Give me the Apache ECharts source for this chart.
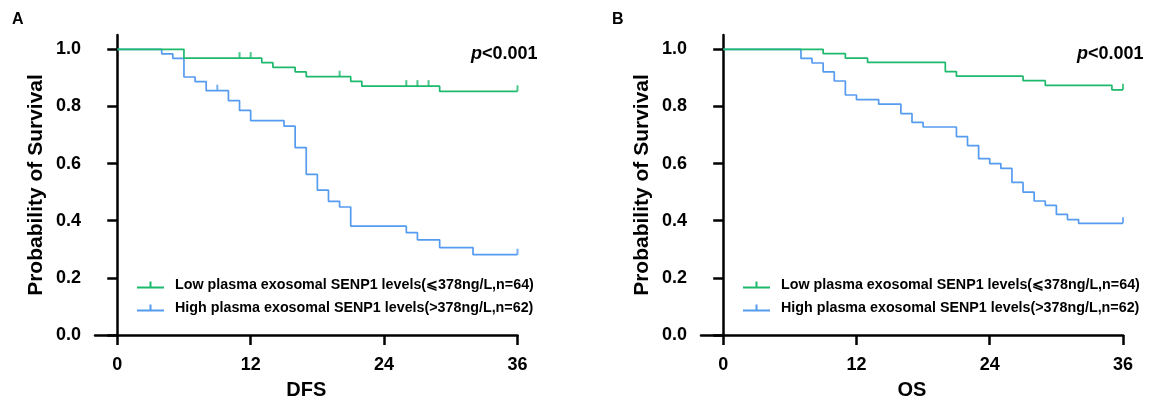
<!DOCTYPE html>
<html>
<head>
<meta charset="utf-8">
<script src="https://cdn.jsdelivr.net/npm/echarts@6/dist/echarts.min.js"></script>
<style>
  html, body { margin: 0; padding: 0; background: #fff; }
  #chart { width: 1155px; height: 405px; }
</style>
</head>
<body>
<div id="chart"></div>
<script>
// survival curves (month, survival)
var dfsLowT = [0, 6, 13, 14, 16, 17, 21, 22, 29, 36];
var dfsLowS = [1, 0.969, 0.953, 0.937, 0.921, 0.904, 0.888, 0.871, 0.853, 0.853];
var dfsLowCens = [11, 12, 20, 26, 27, 28, 36];

var dfsHighT = [0, 4, 5, 6, 7, 8, 10, 11, 12, 15, 16, 17, 18, 19, 20, 21, 26, 27, 29, 32, 36];
var dfsHighS = [1, 0.984, 0.968, 0.903, 0.887, 0.855, 0.82, 0.786, 0.75, 0.731, 0.656, 0.562, 0.507, 0.468, 0.448, 0.381, 0.358, 0.333, 0.306, 0.281, 0.281];
var dfsHighCens = [9, 36];

var osLowT = [0, 9, 11, 13, 20, 21, 27, 29, 35, 36];
var osLowS = [1, 0.985, 0.969, 0.954, 0.922, 0.906, 0.89, 0.874, 0.858, 0.858];
var osLowCens = [36];

var osHighT = [0, 7, 8, 9, 10, 11, 12, 14, 16, 17, 18, 21, 22, 23, 24, 25, 26, 27, 28, 29, 30, 31, 32, 36];
var osHighS = [1, 0.968, 0.952, 0.921, 0.889, 0.84, 0.824, 0.808, 0.775, 0.744, 0.728, 0.694, 0.663, 0.617, 0.6, 0.583, 0.534, 0.5, 0.469, 0.454, 0.422, 0.404, 0.391, 0.391];
var osHighCens = [36];

var xTicks = [0, 12, 24, 36];
var yTicks = [0, 0.2, 0.4, 0.6, 0.8, 1.0];
var lowName = 'Low plasma exosomal SENP1 levels(\u2A7D378ng/L,n=64)';
var highName = 'High plasma exosomal SENP1 levels(>378ng/L,n=62)';

var GREEN = '#1db96c';
var BLUE = '#559bf0';
var FONT = '"Liberation Sans", Arial, sans-serif';

function pairs(t, s) {
  return t.map(function (v, i) { return [v, s[i]]; });
}
// survival value at a censoring time (step lookup)
function censPts(t, s, cens) {
  return cens.map(function (c) {
    var v = s[0];
    for (var i = 0; i < t.length; i++) { if (t[i] <= c) v = s[i]; }
    return [c, v];
  });
}

function xAx(idx, title) {
  return {
    type: 'value', gridIndex: idx, min: -2, max: 36,
    name: title, nameLocation: 'middle', nameGap: 45,
    nameTextStyle: { fontFamily: FONT, fontWeight: 'bold', fontSize: 20, color: '#000' },
    axisLine: { onZero: false, lineStyle: { color: '#000', width: 2.5 } },
    axisTick: { length: 10, customValues: xTicks, lineStyle: { color: '#000', width: 2.5 } },
    axisLabel: { customValues: xTicks, margin: 21, fontFamily: FONT, fontWeight: 'bold', fontSize: 18, color: '#000' },
    splitLine: { show: false }
  };
}
function yAx(idx) {
  return {
    type: 'value', gridIndex: idx, min: 0, max: 1.05,
    name: 'Probability of Survival', nameLocation: 'middle', nameGap: 48,
    nameTextStyle: { fontFamily: FONT, fontWeight: 'bold', fontSize: 21, color: '#000' },
    axisLine: { lineStyle: { color: '#000', width: 2.5 } },
    axisTick: { length: 10, customValues: yTicks, lineStyle: { color: '#000', width: 2.5 } },
    axisLabel: {
      customValues: yTicks, margin: 14, fontFamily: FONT, fontWeight: 'bold', fontSize: 18, color: '#000',
      formatter: function (v) { return v.toFixed(1); }
    },
    splitLine: { show: false }
  };
}
function curve(name, idx, t, s, color, z) {
  return {
    name: name, type: 'line', step: 'end', xAxisIndex: idx, yAxisIndex: idx,
    data: pairs(t, s), symbol: 'none', z: z,
    lineStyle: { color: color, width: 1.7 }, itemStyle: { color: color }
  };
}
function ticks(idx, t, s, cens, color, z) {
  return {
    name: 'cens', type: 'scatter', xAxisIndex: idx, yAxisIndex: idx,
    data: censPts(t, s, cens), symbol: 'rect', symbolSize: [2, 6], symbolOffset: [0, -3],
    itemStyle: { color: color }, z: z, silent: true
  };
}
function legendAt(left) {
  return {
    orient: 'vertical', left: left, top: 272, itemWidth: 27, itemHeight: 7, itemGap: 7,
    icon: 'path://M0,5h27v2h-27z M12.5,0h2v5h-2z',
    data: [lowName, highName],
    textStyle: { fontFamily: FONT, fontWeight: 'bold', fontSize: 14.3, color: '#000', lineHeight: 16, padding: [0, 0, 0, 6] }
  };
}
function pText(x) {
  return {
    type: 'text', left: x, top: 45,
    style: {
      text: '{i|p}{n|<0.001}',
      rich: {
        i: { fontFamily: FONT, fontWeight: 'bold', fontStyle: 'italic', fontSize: 18, fill: '#000' },
        n: { fontFamily: FONT, fontWeight: 'bold', fontSize: 18, fill: '#000' }
      }
    }
  };
}

var chart = echarts.init(document.getElementById('chart'));
var option = {
  animation: false,
  backgroundColor: '#fff',
  grid: [
    { left: 95, top: 35, width: 422.5, height: 305 },
    { left: 701, top: 35, width: 422, height: 305 }
  ],
  xAxis: [xAx(0, 'DFS'), xAx(1, 'OS')],
  yAxis: [yAx(0), yAx(1)],
  legend: [legendAt(132), legendAt(738)],
  graphic: [
    { type: 'text', left: 12, top: 12, style: { text: 'A', fontFamily: FONT, fontWeight: 'bold', fontSize: 16, fill: '#000' } },
    { type: 'text', left: 612, top: 12, style: { text: 'B', fontFamily: FONT, fontWeight: 'bold', fontSize: 16, fill: '#000' } },
    pText(471),
    pText(1077)
  ],
  series: [
    curve(highName, 0, dfsHighT, dfsHighS, BLUE, 2),
    ticks(0, dfsHighT, dfsHighS, dfsHighCens, BLUE, 2),
    curve(lowName, 0, dfsLowT, dfsLowS, GREEN, 3),
    ticks(0, dfsLowT, dfsLowS, dfsLowCens, GREEN, 3),
    curve(highName, 1, osHighT, osHighS, BLUE, 2),
    ticks(1, osHighT, osHighS, osHighCens, BLUE, 2),
    curve(lowName, 1, osLowT, osLowS, GREEN, 3),
    ticks(1, osLowT, osLowS, osLowCens, GREEN, 3)
  ]
};
chart.setOption(option);
</script>
</body>
</html>
